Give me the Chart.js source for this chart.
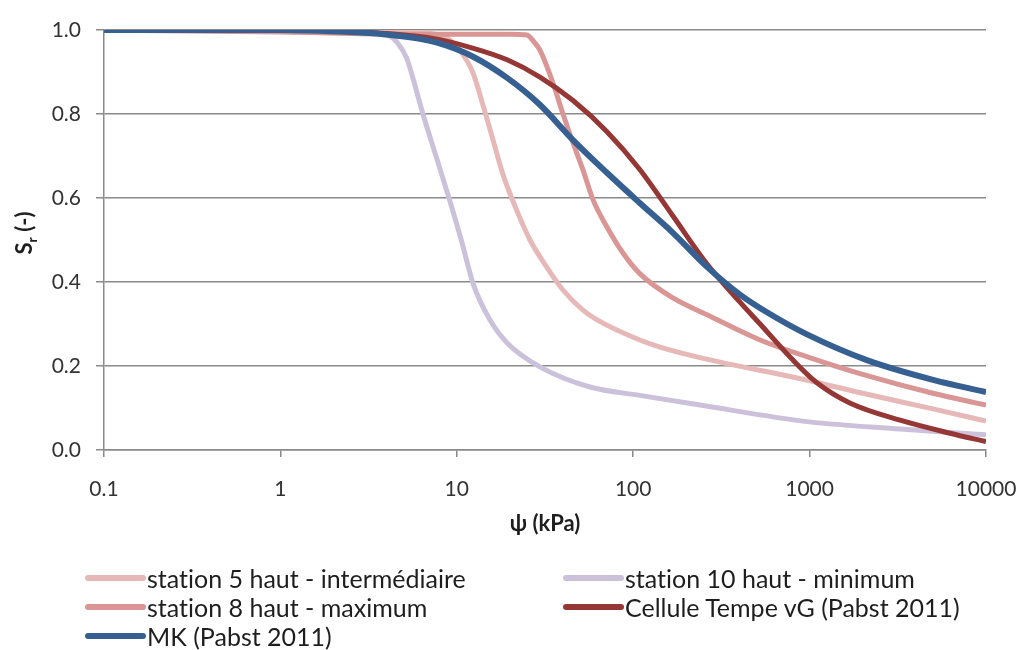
<!DOCTYPE html>
<html>
<head>
<meta charset="utf-8">
<script src="https://cdn.jsdelivr.net/npm/chart.js@4.4.1/dist/chart.umd.min.js"></script>
<style>
  body{margin:0;background:#fff;}
  #wrap{position:relative;width:1021px;height:650px;font-family:Lato,"DejaVu Sans",sans-serif;}
  canvas{position:absolute;left:0;top:0;}
  .leg{position:absolute;display:flex;align-items:center;font-size:25px;color:#1e1e1e;white-space:nowrap;font-variant-ligatures:none;}
  .leg span.ln{display:inline-block;width:61px;height:6px;border-radius:3px;margin-right:1px;}
</style>
</head>
<body>
<div id="wrap">
  <canvas id="c" width="1021" height="650"></canvas>
  <div id="legend"></div>
</div>
<script>
// x = succion (kPa), y = degre de saturation
const xTicks = [0.1, 1, 10, 100, 1000, 10000];
const yTicks = [0, 0.2, 0.4, 0.6, 0.8, 1.0];

const st5X = [0.1, 1, 5, 8, 9.5, 10.4, 12.3, 14.1, 16, 18.3, 21.9, 26, 32.4, 40, 51.9, 62.4, 109, 142, 239, 1000, 2000, 5000, 10000];
const st5Y = [1.0, 0.998, 0.995, 0.988, 0.97, 0.952, 0.90, 0.82, 0.74, 0.655, 0.57, 0.50, 0.435, 0.381, 0.333, 0.31, 0.262, 0.245, 0.22, 0.165, 0.135, 0.098, 0.069];

const st10X = [0.1, 1, 3, 4.18, 4.6, 5.2, 5.6, 6.43, 7.62, 9.03, 10.6, 12.4, 15.4, 19.3, 29.6, 56.9, 109, 239, 1000, 3260, 10000];
const st10Y = [1.0, 1.0, 0.995, 0.985, 0.97, 0.933, 0.89, 0.80, 0.70, 0.60, 0.50, 0.395, 0.31, 0.255, 0.198, 0.15, 0.13, 0.107, 0.067, 0.05, 0.036];

const st8X = [0.1, 1, 5, 10, 20, 25, 27, 29.6, 35, 40, 45.6, 51.9, 59.3, 71, 87.5, 109, 168, 262, 524, 1000, 2000, 5000, 10000];
const st8Y = [1.0, 0.995, 0.99, 0.99, 0.99, 0.988, 0.975, 0.952, 0.875, 0.80, 0.731, 0.667, 0.595, 0.531, 0.469, 0.42, 0.362, 0.322, 0.262, 0.22, 0.18, 0.135, 0.107];

const tempeX = [0.1, 1, 3, 7.3, 12.3, 19.3, 29.6, 45.6, 71, 109, 168, 262, 403, 524, 805, 1100, 1690, 3260, 6250, 10000];
const tempeY = [1.0, 1.0, 0.995, 0.98, 0.957, 0.929, 0.888, 0.832, 0.758, 0.668, 0.557, 0.443, 0.352, 0.300, 0.214, 0.16, 0.112, 0.071, 0.04, 0.02];

const mkX = [0.1, 1, 2.48, 3.82, 5.94, 8, 12.3, 19.3, 29.6, 45.6, 71, 109, 168, 262, 403, 573, 980, 2110, 5010, 10000];
const mkY = [1.0, 1.0, 0.995, 0.99, 0.98, 0.968, 0.937, 0.886, 0.822, 0.738, 0.66, 0.588, 0.517, 0.436, 0.37, 0.328, 0.274, 0.214, 0.167, 0.138];

const series = [
  {label:'station 5 haut - intermédiaire', xs:st5X, ys:st5Y, color:'#e6b9b8', w:5, order:5},
  {label:'station 10 haut - minimum', xs:st10X, ys:st10Y, color:'#ccc1da', w:5, order:4},
  {label:'station 8 haut - maximum', xs:st8X, ys:st8Y, color:'#d99694', w:5, order:3},
  {label:'Cellule Tempe vG (Pabst 2011)', xs:tempeX, ys:tempeY, color:'#953735', w:5, order:2},
  {label:'MK (Pabst 2011)', xs:mkX, ys:mkY, color:'#376092', w:6, order:1}
];

const FONT = 'Lato, "DejaVu Sans", sans-serif';

const axisTitles = {
  id:'axisTitles',
  afterDraw(chart){
    const ctx = chart.ctx, a = chart.chartArea;
    ctx.save();
    ctx.fillStyle = '#1e1e1e';
    ctx.font = 'bold 22px ' + FONT;
    ctx.textAlign = 'center';
    ctx.textBaseline = 'middle';
    ctx.fillText('ψ (kPa)', (a.left + a.right)/2, 524);

    // y title with subscript r
    ctx.translate(25, 233);
    ctx.rotate(-Math.PI/2);
    ctx.textAlign = 'left';
    const big = 'bold 22px ' + FONT, small = 'bold 14px ' + FONT;
    ctx.font = big; const wS = ctx.measureText('S').width;
    ctx.font = small; const wr = ctx.measureText('r').width;
    ctx.font = big; const wp = ctx.measureText(' (-)').width;
    let x = -(wS + wr + wp)/2;
    ctx.fillText('S', x, 0); x += wS;
    ctx.font = small; ctx.fillText('r', x, 7); x += wr;
    ctx.font = big; ctx.fillText(' (-)', x, 0);
    ctx.restore();
  }
};

new Chart(document.getElementById('c'), {
  type:'line',
  data:{
    datasets: series.map(s=>({
      label:s.label,
      data:s.xs.map((x,i)=>({x, y:s.ys[i]})),
      borderColor:s.color,
      backgroundColor:s.color,
      borderWidth:s.w,
      pointRadius:0,
      cubicInterpolationMode:'monotone',
      order:s.order
    }))
  },
  options:{
    responsive:false,
    animation:false,
    devicePixelRatio:1,
    layout:{padding:{top:30, right:35, bottom:0, left:0}},
    plugins:{legend:{display:false}, tooltip:{enabled:false}},
    scales:{
      x:{
        type:'logarithmic',
        min:0.1, max:10000,
        afterBuildTicks(s){ s.ticks = xTicks.map(v=>({value:v})); },
        afterFit(s){ s.height = 200; s.paddingLeft = 0; s.paddingRight = 0; },
        grid:{drawOnChartArea:false, drawTicks:true, tickLength:7, color:'#8a8a8a', lineWidth:1.5},
        border:{display:true, color:'#8a8a8a', width:1.5},
        ticks:{font:{family:FONT, size:21}, color:'#333', padding:20, maxRotation:0, autoSkip:false,
          callback:(v)=>String(v)}
      },
      y:{
        min:0, max:1,
        afterBuildTicks(s){ s.ticks = yTicks.map(v=>({value:v})); },
        afterFit(s){ s.width = 104; s.paddingTop = 0; s.paddingBottom = 0; },
        grid:{color:'#8a8a8a', lineWidth:1.5, tickLength:8},
        border:{display:true, color:'#8a8a8a', width:1.5},
        ticks:{font:{family:FONT, size:21}, color:'#333', padding:15, callback:(v)=>v.toFixed(1)}
      }
    }
  },
  plugins:[axisTitles]
});

// legend, two columns like the original
const legPos = [[85,578],[563,578],[85,607],[563,607],[85,636]];
const legend = document.getElementById('legend');
series.forEach((s,i)=>{
  const d = document.createElement('div');
  d.className = 'leg';
  d.style.left = legPos[i][0] + 'px';
  d.style.top = (legPos[i][1] - 15) + 'px';
  d.style.height = '30px';
  d.innerHTML = `<span class="ln" style="background:${s.color}"></span>${s.label}`;
  legend.appendChild(d);
});
</script>
</body>
</html>
